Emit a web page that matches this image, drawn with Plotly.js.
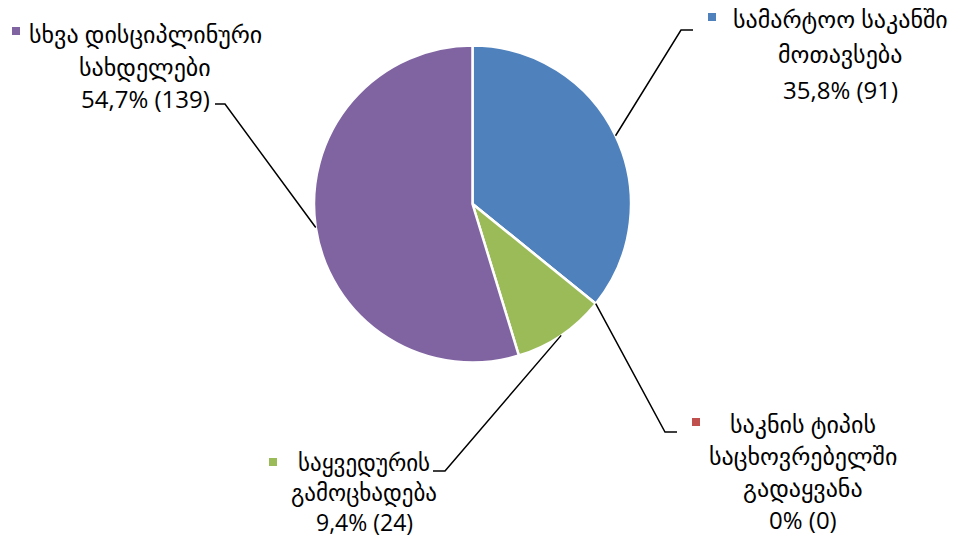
<!DOCTYPE html>
<html>
<head>
<meta charset="utf-8">
<script src="https://cdn.plot.ly/plotly-3.0.1.min.js"></script>
<style>html,body{margin:0;padding:0;background:#fff;}#chart{width:956px;height:538px;}</style>
</head>
<body>
<div id="chart"></div>
<script>
// ---- data ----
const categories = [
  "სამარტოო საკანში მოთავსება",
  "საკნის ტიპის საცხოვრებელში გადაყვანა",
  "საყვედურის გამოცხადება",
  "სხვა დისციპლინური სახდელები"
];
const counts = [91, 0, 24, 139];
const percentLabels = ["35,8%", "0%", "9,4%", "54,7%"];
const labelLines = [
  ["სამარტოო საკანში", "მოთავსება"],
  ["საკნის ტიპის", "საცხოვრებელში", "გადაყვანა"],
  ["საყვედურის", "გამოცხადება"],
  ["სხვა დისციპლინური", "სახდელები"]
];
const colors = ["#4F81BD", "#C0504D", "#9BBB59", "#8064A2"];

// ---- layout (pixels) ----
const W = 956, H = 538;
const pieBox = {x0: 314, x1: 631, y0: 45, y1: 363};
const FONT = "'Open Sans', 'DejaVu Sans', sans-serif";
// label block placement: centre x, first line centre y, line pitch, font size, marker box, elbow and end of leader
const place = [
  {cx: 840, y: 19, pitch: 35, fs: 24, mk: [708, 13], elbow: [681, 30], end: [693, 30]},
  {cx: 803, y: 423, pitch: 32, fs: 24, mk: [692, 418], elbow: [665, 432], end: [677, 432]},
  {cx: 364, y: 462, pitch: 30, fs: 23, mk: [269, 458], elbow: [445, 471], end: [433, 471]},
  {cx: 145, y: 33, pitch: 33, fs: 24, mk: [12, 27], elbow: [225, 104], end: [215, 104]}
];

const px = x => x / W;
const py = y => 1 - y / H;

const cx = (pieBox.x0 + pieBox.x1) / 2, cy = (pieBox.y0 + pieBox.y1) / 2;
const R = Math.min(pieBox.x1 - pieBox.x0, pieBox.y1 - pieBox.y0) / 2;
const total = counts.reduce((a, b) => a + b, 0);

const annotations = [];
const shapes = [];
let cum = 0;
counts.forEach((v, i) => {
  const mid = (cum + v / 2) / total * 2 * Math.PI;
  cum += v;
  const sx = cx + R * Math.sin(mid), sy = cy - R * Math.cos(mid);
  const p = place[i];
  shapes.push({
    type: "path", xref: "paper", yref: "paper",
    path: `M ${px(sx)},${py(sy)} L ${px(p.elbow[0])},${py(p.elbow[1])} L ${px(p.end[0])},${py(p.end[1])}`,
    line: {color: "#000", width: 1.5}
  });
  shapes.push({
    type: "rect", xref: "paper", yref: "paper",
    x0: px(p.mk[0]), x1: px(p.mk[0] + 8), y0: py(p.mk[1]), y1: py(p.mk[1] + 8),
    fillcolor: colors[i], line: {width: 0}
  });
  const lines = labelLines[i].concat([percentLabels[i] + " (" + v + ")"]);
  lines.forEach((t, k) => {
    annotations.push({
      text: t, xref: "paper", yref: "paper",
      x: px(p.cx), y: py(p.y + k * p.pitch),
      xanchor: "center", yanchor: "middle", showarrow: false,
      borderpad: 0,
      font: {family: FONT, size: p.fs, color: "#000"}
    });
  });
});

const trace = {
  type: "pie",
  labels: categories,
  values: counts,
  marker: {colors: colors, line: {color: "#fff", width: 2.5}},
  sort: false,
  direction: "clockwise",
  rotation: 0,
  textinfo: "none",
  hoverinfo: "none",
  domain: {x: [px(pieBox.x0), px(pieBox.x1)], y: [py(pieBox.y1), py(pieBox.y0)]}
};

Plotly.newPlot("chart", [trace], {
  width: W, height: H,
  margin: {l: 0, r: 0, t: 0, b: 0},
  paper_bgcolor: "#fff",
  showlegend: false,
  annotations: annotations,
  shapes: shapes
}, {displayModeBar: false, staticPlot: true});
</script>
</body>
</html>
